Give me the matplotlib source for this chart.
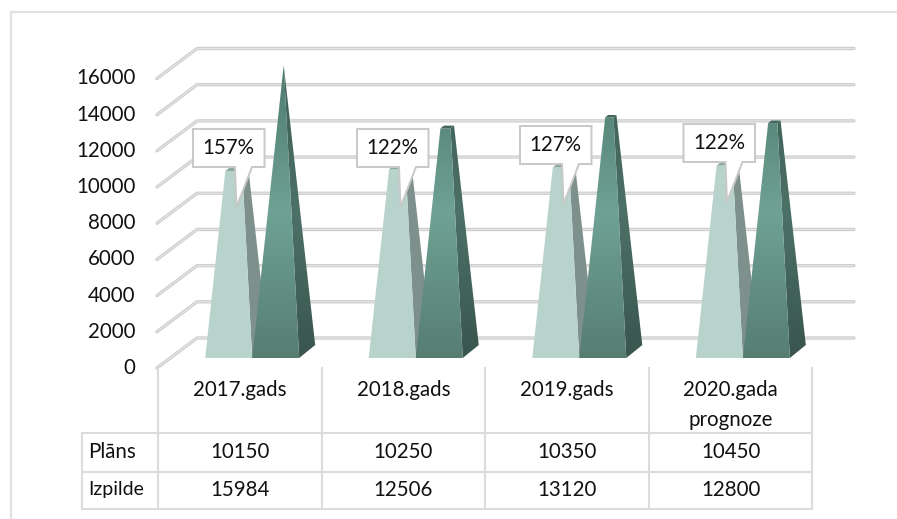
import numpy as np
import matplotlib
matplotlib.use('Agg')
import matplotlib.pyplot as plt
from matplotlib.patches import Polygon
from matplotlib.colors import LinearSegmentedColormap

categories = ['2017.gads', '2018.gads', '2019.gads', '2020.gada\nprognoze']
plan = [10150, 10250, 10350, 10450]
izpilde = [15984, 12506, 13120, 12800]
percent_labels = ['157%', '122%', '127%', '122%']
row_names = ['Plāns', 'Izpilde']
y_ticks = list(range(0, 16001, 2000))

W, H = 897, 519
FS = 14.8
TXT = '#111111'
plt.rcParams['font.family'] = ['Lato', 'DejaVu Sans']
fig = plt.figure(figsize=(W / 100, H / 100), dpi=100)
ax = fig.add_axes([0, 0, 1, 1])

CAT_W = 163.55
X0 = 240.0
PX_PER_UNIT = (368.0 - 78.5) / 16000
Y0 = 368.0
ax.set_xlim((0 - X0) / CAT_W, (W - X0) / CAT_W)
ax.set_ylim((Y0 - H) / PX_PER_UNIT, Y0 / PX_PER_UNIT)
ax.axis('off')

def dx(px):
    return px / CAT_W
def dy(px):
    return px / PX_PER_UNIT

LINE = '#dcdcdc'

# chart frame (top, left, right running off the image)
ax.plot([dx(11 - X0), dx(11 - X0)], [dy(Y0 - H), dy(Y0 - 12)], color='#e2e2e2', lw=1.6, zorder=1)
ax.plot([dx(11 - X0), dx(W - X0)], [dy(Y0 - 12), dy(Y0 - 12)], color='#e2e2e2', lw=1.6, zorder=1)

# gridlines: front-left stub going back and the back wall
for t in y_ticks:
    xs = [dx(157 - X0), dx(197 - X0), dx(854 - X0)]
    ys = [t, t + dy(30), t + dy(30)]
    ax.plot(xs, ys, color='#bdbdbd', lw=2.4, zorder=2, solid_capstyle='round', solid_joinstyle='round', alpha=.75)
    ax.plot(xs, ys, color='#e6e6e6', lw=0.8, zorder=2.1, solid_capstyle='round', solid_joinstyle='round')
    ax.text(dx(135.5 - X0), t, str(t), ha='right', va='center', fontsize=FS, color=TXT, zorder=6)

# data table
T_L = 82
T_C0 = 158
rows_y = [433, 471.5, 509]
col_x = [T_C0 + CAT_W * i for i in range(5)]
for cx in col_x:
    ax.plot([dx(cx - X0)] * 2, [dy(Y0 - 368), dy(Y0 - 509)], color=LINE, lw=1.5, zorder=3)
for ry in rows_y:
    ax.plot([dx(T_L - X0), dx(col_x[-1] - X0)], [dy(Y0 - ry)] * 2, color=LINE, lw=1.5, zorder=3)
ax.plot([dx(T_L - X0)] * 2, [dy(Y0 - 433), dy(Y0 - 509)], color=LINE, lw=1.5, zorder=3)

for i, c in enumerate(categories):
    if '\n' in c:
        a, b = c.split('\n')
        ax.text(i, dy(Y0 - 390), a, ha='center', va='center', fontsize=FS, color=TXT)
        ax.text(i, dy(Y0 - 420), b, ha='center', va='center', fontsize=FS, color=TXT)
    else:
        ax.text(i, dy(Y0 - 390), c, ha='center', va='center', fontsize=FS, color=TXT)
    ax.text(i, dy(Y0 - 451.5), str(plan[i]), ha='center', va='center', fontsize=FS, color=TXT)
    ax.text(i, dy(Y0 - 489.5), str(izpilde[i]), ha='center', va='center', fontsize=FS, color=TXT)
ax.text(dx(88 - X0), dy(Y0 - 451.5), row_names[0], ha='left', va='center', fontsize=FS, color=TXT)
ax.text(dx(88 - X0), dy(Y0 - 489.5), row_names[1], ha='left', va='center', fontsize=FS * 0.95, color=TXT)

# truncated pyramids
BASE_W = 47.0
DX, DY = 16.0, 13.0
front_cmap = LinearSegmentedColormap.from_list('f', [(0, '#4e7a6e'), (.5, '#6fa294'), (1, '#567d72')])
side_cmap = LinearSegmentedColormap.from_list('s', [(0, '#3c5c54'), (.5, '#4c7167'), (1, '#39554e')])

def grad_poly(pts, cmap, z, extent):
    poly = Polygon(pts, closed=True, transform=ax.transData, fc='none', ec='none')
    ax.add_patch(poly)
    img = ax.imshow(np.linspace(0, 1, 256).reshape(-1, 1), cmap=cmap, aspect='auto',
                    extent=extent, origin='upper', zorder=z, interpolation='bilinear')
    img.set_clip_path(poly)

def pyramid(cat, offset_px, value, front, side, top, z, gradient=False):
    L = cat + dx(offset_px)
    R = L + dx(BASE_W)
    base = dy(10)
    lift = dy(13.3)
    depth_x, depth_y = dx(DX), dy(DY)
    apex_x = (L + R + depth_x) / 2
    apex_y = lift + 16000
    y_top_front = lift + value
    f = (y_top_front - base) / (apex_y - base)
    lt = L + f * (apex_x - L)
    rt = R + f * (apex_x - R)
    brx = R + depth_x
    bry = base + depth_y
    brt_x = brx + f * (apex_x - brx)
    brt_y = bry + f * (apex_y - bry)
    blx = L + depth_x
    blt_x = blx + f * (apex_x - blx)
    front_pts = [(L, base), (R, base), (rt, y_top_front), (lt, y_top_front)]
    side_pts = [(R, base), (brx, bry), (brt_x, brt_y), (rt, y_top_front)]
    top_pts = [(lt, y_top_front), (rt, y_top_front), (brt_x, brt_y), (blt_x, brt_y)]
    if gradient:
        ext_full = [L - dx(2), brx + dx(2), bry - dy(14), apex_y]
        grad_poly(side_pts, side_cmap, z, ext_full)
        grad_poly(front_pts, front_cmap, z + .1, ext_full)
    else:
        ax.add_patch(Polygon(side_pts, closed=True, fc=side, ec='none', zorder=z))
        ax.add_patch(Polygon(front_pts, closed=True, fc=front, ec='none', zorder=z + .1))
    ax.add_patch(Polygon(top_pts, closed=True, fc=top, ec='none', zorder=z + .2))

for i in range(4):
    off = 205.2 - X0
    pyramid(i, off, plan[i], '#b8d3cc', '#7e908c', '#8fa9a2', 4)
    pyramid(i, off + BASE_W, izpilde[i], None, None, '#44675e', 4.5, gradient=True)

# callouts
box_tops = [129, 129, 126, 124]
box_left_offsets = [193, 357, 520, 683.5]
BOX_W, BOX_H = 71.5, 38
for i, lab in enumerate(percent_labels):
    bl = box_left_offsets[i]
    bt = box_tops[i]
    bb = bt + BOX_H
    pts_px = [(bl, bt), (bl + BOX_W, bt), (bl + BOX_W, bb), (bl + 59, bb),
              (bl + 43.5, bb + 40), (bl + 42, bb), (bl, bb)]
    pts = [(dx(px - X0), dy(Y0 - py)) for px, py in pts_px]
    ax.add_patch(Polygon(pts, closed=True, fc='white', ec='#c8c8c8', lw=1.4, zorder=5, joinstyle='miter'))
    ax.text(dx(bl + BOX_W / 2 - X0), dy(Y0 - (bt + BOX_H / 2)), lab, ha='center', va='center',
            fontsize=FS, color=TXT, zorder=6)

ax.set_xlim((0 - X0) / CAT_W, (W - X0) / CAT_W)
ax.set_ylim((Y0 - H) / PX_PER_UNIT, Y0 / PX_PER_UNIT)
fig.savefig('out.png', dpi=100, facecolor='white')
